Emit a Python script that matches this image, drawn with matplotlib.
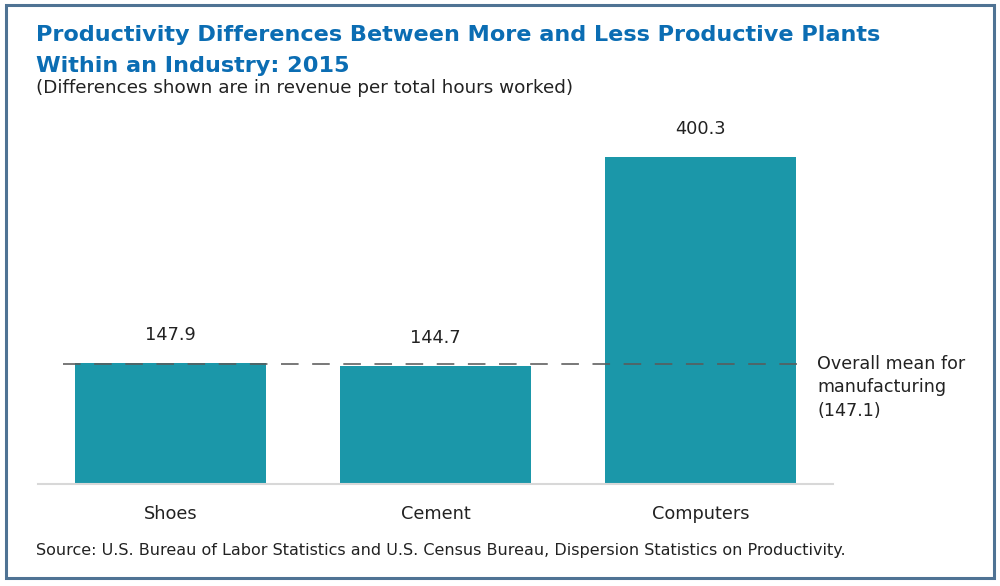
import matplotlib
matplotlib.use("Agg")
import matplotlib.pyplot as plt
from matplotlib.patches import Rectangle

categories = ["Shoes", "Cement", "Computers"]
values = [147.9, 144.7, 400.3]
value_labels = ["147.9", "144.7", "400.3"]
mean_value = 147.1
mean_label = "Overall mean for\nmanufacturing\n(147.1)"

title = "Productivity Differences Between More and Less Productive Plants\nWithin an Industry: 2015"
subtitle = "(Differences shown are in revenue per total hours worked)"
source = "Source: U.S. Bureau of Labor Statistics and U.S. Census Bureau, Dispersion Statistics on Productivity."

bar_color = "#1b97a9"
title_color = "#0b6db3"
font = "DejaVu Sans"

fig = plt.figure(figsize=(10, 5.86), dpi=100)
fig.patch.set_facecolor("white")

# outer frame
fig.patches.append(Rectangle((0.006, 0.013), 0.988, 0.978, transform=fig.transFigure,
                             fill=False, edgecolor="#4f7394", linewidth=2.2))

ax = fig.add_axes([0.038, 0.174, 0.795, 0.604])
x = range(len(categories))
ax.bar(x, values, width=0.717, color=bar_color, zorder=2)
ax.set_xlim(-0.5, 2.5)
ax.set_ylim(0, 433.3)

for xi, v, lab in zip(x, values, value_labels):
    ax.text(xi, v + 28, lab, ha="center", va="baseline", fontsize=12.8,
            family=font, color="#222222")

ax.plot([-0.404, 2.392], [mean_value, mean_value], linestyle=(0, (11, 8.5)),
        color="#5a5a5a", linewidth=1.15, zorder=3, clip_on=False)
ax.annotate(mean_label, xy=(2.44, mean_value), xytext=(0, 6.5), textcoords="offset points",
            ha="left", va="top", fontsize=12.6, family=font, color="#222222",
            linespacing=1.4, annotation_clip=False)

for s in ["top", "right", "left"]:
    ax.spines[s].set_visible(False)
ax.spines["bottom"].set_color("#d8d8d8")
ax.spines["bottom"].set_linewidth(1.5)
ax.set_yticks([])
ax.set_xticks(list(x))
ax.set_xticklabels(categories, fontsize=12.8, family=font, color="#222222")
ax.tick_params(axis="x", length=0, pad=15)

fig.text(0.036, 0.9565, title, ha="left", va="top", fontsize=16.1, fontweight="bold",
         family=font, color=title_color, linespacing=1.63)
fig.text(0.036, 0.8498, subtitle, ha="left", va="center", fontsize=13.25,
         family=font, color="#222222")
fig.text(0.036, 0.061, source, ha="left", va="center", fontsize=11.55,
         family=font, color="#222222")

fig.savefig("out.png", dpi=100, facecolor="white")
